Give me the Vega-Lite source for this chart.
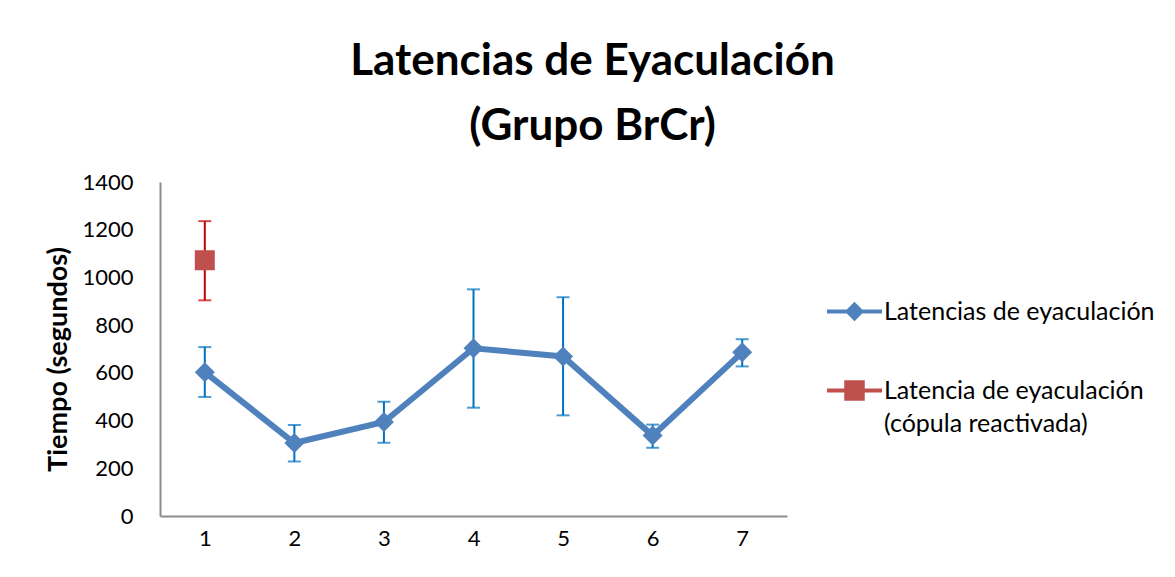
{
  "$schema": "https://vega.github.io/schema/vega-lite/v6.json",
  "autosize": "none",
  "width": 627,
  "height": 334,
  "padding": {"left": 160, "top": 182, "right": 388, "bottom": 61},
  "background": "white",
  "title": {
    "text": ["Latencias de Eyaculación", "(Grupo BrCr)"],
    "font": "Lato",
    "fontSize": 44,
    "fontWeight": "bold",
    "color": "#000000",
    "anchor": "middle",
    "dx": 119,
    "offset": 22,
    "lineHeight": 65
  },
  "config": {
    "view": {"stroke": null},
    "font": "Lato"
  },
  "data": {
    "values": [
      {"x": "1", "serie": "Latencias de eyaculación", "y": 603, "lo": 499, "hi": 708},
      {"x": "2", "serie": "Latencias de eyaculación", "y": 306, "lo": 228, "hi": 381},
      {"x": "3", "serie": "Latencias de eyaculación", "y": 394, "lo": 307, "hi": 479},
      {"x": "4", "serie": "Latencias de eyaculación", "y": 703, "lo": 454, "hi": 950},
      {"x": "5", "serie": "Latencias de eyaculación", "y": 669, "lo": 422, "hi": 917},
      {"x": "6", "serie": "Latencias de eyaculación", "y": 337, "lo": 286, "hi": 383},
      {"x": "7", "serie": "Latencias de eyaculación", "y": 686, "lo": 627, "hi": 741},
      {"x": "1", "serie": "Latencia de eyaculación (cópula reactivada)", "y": 1072, "lo": 904, "hi": 1236}
    ]
  },
  "encoding": {
    "x": {
      "field": "x",
      "type": "ordinal",
      "sort": ["1", "2", "3", "4", "5", "6", "7"],
      "scale": {"type": "point", "padding": 0.5, "domain": ["1", "2", "3", "4", "5", "6", "7"]},
      "axis": {
        "title": null,
        "labelAngle": 0,
        "labelFont": "Lato",
        "labelFontSize": 22,
        "labelColor": "#000000",
        "labelPadding": 12,
        "ticks": false,
        "tickSize": 0,
        "domainColor": "#8c8c8c",
        "domainWidth": 2,
        "grid": false
      }
    }
  },
  "layer": [
    {
      "mark": {"type": "rule", "strokeWidth": 2},
      "encoding": {
        "y": {
          "field": "lo",
          "type": "quantitative",
          "scale": {"domain": [0, 1400]},
          "axis": {
            "title": "Tiempo (segundos)",
            "titleFont": "Lato",
            "titleFontSize": 27,
            "titleFontWeight": "bold",
            "titleColor": "#000000",
            "titleX": -102,
            "titleY": 177,
            "titleAngle": -90,
            "titleAlign": "center",
            "titleBaseline": "middle",
            "values": [0, 200, 400, 600, 800, 1000, 1200, 1400],
            "format": "d",
            "labelFont": "Lato",
            "labelFontSize": 22,
            "labelColor": "#000000",
            "labelPadding": 27,
            "ticks": false,
            "tickSize": 0,
            "domainColor": "#8c8c8c",
            "domainWidth": 2,
            "grid": false
          }
        },
        "y2": {"field": "hi"},
        "color": {
          "condition": {"test": "datum.serie != 'Latencias de eyaculación'", "value": "#C00000"},
          "value": "#0070C0"
        }
      }
    },
    {
      "mark": {"type": "tick", "size": 13, "thickness": 2},
      "encoding": {
        "y": {"field": "lo", "type": "quantitative"},
        "color": {
          "condition": {"test": "datum.serie != 'Latencias de eyaculación'", "value": "#C00000"},
          "value": "#0070C0"
        }
      }
    },
    {
      "mark": {"type": "tick", "size": 13, "thickness": 2},
      "encoding": {
        "y": {"field": "hi", "type": "quantitative"},
        "color": {
          "condition": {"test": "datum.serie != 'Latencias de eyaculación'", "value": "#C00000"},
          "value": "#0070C0"
        }
      }
    },
    {
      "transform": [{"filter": "datum.serie == 'Latencias de eyaculación'"}],
      "mark": {"type": "line", "strokeWidth": 6},
      "encoding": {
        "y": {"field": "y", "type": "quantitative"},
        "color": {
          "field": "serie",
          "type": "nominal",
          "scale": {
            "domain": ["Latencias de eyaculación", "Latencia de eyaculación (cópula reactivada)"],
            "range": ["#4F81BD", "#C0504D"]
          },
          "legend": {
            "title": null,
            "orient": "none",
            "legendX": 665,
            "legendY": 100,
            "padding": 0,
            "labelFont": "Lato",
            "labelFontSize": 25,
            "labelColor": "#000000",
            "labelLimit": 400,
            "labelOffset": 0,
            "rowPadding": 34,
            "symbolSize": 3025,
            "labelExpr": "datum.label == 'Latencias de eyaculación' ? datum.label : ['Latencia de eyaculación', '(cópula reactivada)']",
            "encode": {
              "symbols": {
                "update": {
                  "shape": {"signal": "datum.value == 'Latencias de eyaculación' ? 'M-1,0H1M0,-0.25L0.25,0L0,0.25L-0.25,0Z' : 'M-1,0H1M-0.3,-0.3H0.3V0.3H-0.3Z'"},
                  "fill": {"scale": "color", "field": "value"},
                  "stroke": {"scale": "color", "field": "value"},
                  "strokeWidth": {"value": 4},
                  "opacity": {"value": 1}
                }
              },
              "labels": {
                "update": {
                  "lineHeight": {"value": 33}
                }
              }
            }
          }
        }
      }
    },
    {
      "transform": [{"filter": "datum.serie == 'Latencias de eyaculación'"}],
      "mark": {"type": "point", "filled": true, "size": 400, "opacity": 1, "shape": "diamond", "color": "#4F81BD"},
      "encoding": {
        "y": {"field": "y", "type": "quantitative"}
      }
    },
    {
      "transform": [{"filter": "datum.serie != 'Latencias de eyaculación'"}],
      "mark": {"type": "point", "filled": true, "size": 400, "opacity": 1, "shape": "square", "color": "#C0504D"},
      "encoding": {
        "y": {"field": "y", "type": "quantitative"}
      }
    }
  ]
}
